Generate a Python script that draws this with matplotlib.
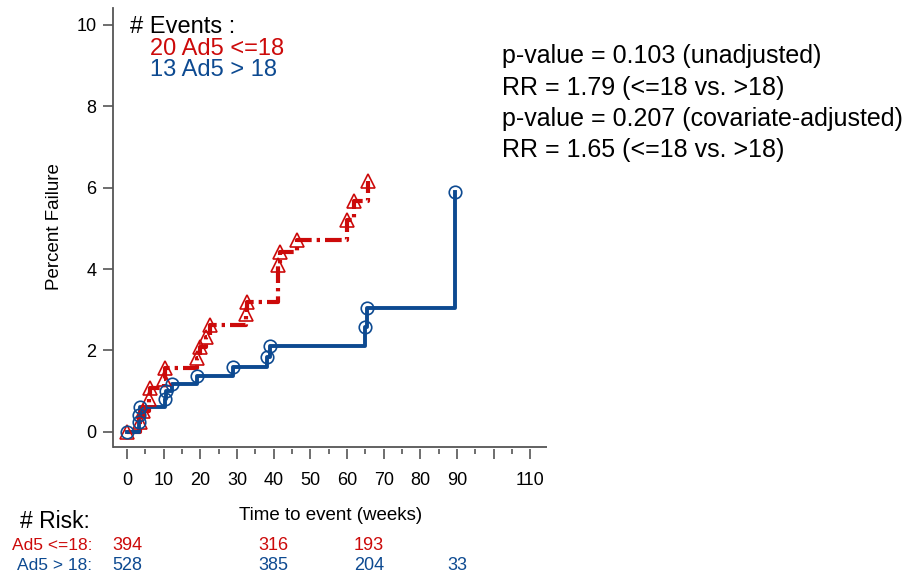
import matplotlib
matplotlib.use("Agg")
import matplotlib.pyplot as plt
from matplotlib.transforms import blended_transform_factory

plt.rcParams['font.family'] = ['Liberation Sans', 'DejaVu Sans']

# ---- data ----
red_t = [0, 3.5, 4.3, 6.0, 6.4, 10.2, 10.5, 19.1, 20.0, 21.6, 22.7, 32.5, 32.6,
         41.3, 41.6, 46.3, 60.1, 62.0, 65.6]
red_y = [0, 0.25, 0.52, 0.81, 1.07, 1.31, 1.58, 1.82, 2.08, 2.32, 2.62, 2.90, 3.20,
         4.10, 4.41, 4.72, 5.20, 5.68, 6.17]
blue_t = [0, 3.3, 3.4, 3.6, 10.3, 10.6, 12.3, 19.0, 29.0, 38.3, 38.9, 64.8, 65.3, 89.5]
blue_y = [0, 0.24, 0.42, 0.60, 0.81, 1.00, 1.18, 1.38, 1.59, 1.83, 2.10, 2.57, 3.04, 5.90]

x_ticks = [0, 10, 20, 30, 40, 50, 60, 70, 80, 90, 100, 110]
x_ticklabels = ['0', '10', '20', '30', '40', '50', '60', '70', '80', '90', '', '110']
y_ticks = [0, 2, 4, 6, 8, 10]

risk_times_red = [0, 40, 66]
risk_red = [394, 316, 193]
risk_times_blue = [0, 40, 66, 90]
risk_blue = [528, 385, 204, 33]

group_red = 'Ad5 <=18'
group_blue = 'Ad5 > 18'
events_red = 20
events_blue = 13

stats_lines = ['p-value = 0.103 (unadjusted)',
               'RR = 1.79 (<=18 vs. >18)',
               'p-value = 0.207 (covariate-adjusted)',
               'RR = 1.65 (<=18 vs. >18)']

RED = '#CC0A0A'
BLUE = '#0D4A91'
AXC = '#555555'

W, H = 913, 579
fig = plt.figure(figsize=(W / 100, H / 100), dpi=100)
ax = fig.add_axes([113 / W, 1 - 447.3 / H, 434 / W, 439 / H])

ax.set_xlim(-3.8, 114.5)
ax.set_ylim(-0.38, 10.41)

# red: dash-dot step
ax.plot(red_t, red_y, drawstyle='steps-post', color=RED, lw=3.0,
        dashes=(4.0, 1.2, 0.8, 1.2), dash_capstyle='butt', zorder=3)
ax.plot(red_t, red_y, linestyle='none', marker='^', markersize=10,
        markerfacecolor='none', markeredgecolor=RED, markeredgewidth=1.2, zorder=4)

# blue: solid step
ax.plot(blue_t, blue_y, drawstyle='steps-post', color=BLUE, lw=2.8, zorder=3)
ax.plot(blue_t, blue_y, linestyle='none', marker='o', markersize=9,
        markerfacecolor='none', markeredgecolor=BLUE, markeredgewidth=1.2, zorder=4)

# axes styling
for s in ['top', 'right']:
    ax.spines[s].set_visible(False)
ax.spines['left'].set_color(AXC)
ax.spines['left'].set_linewidth(1.3)
ax.spines['bottom'].set_position(('outward', 1.5))
ax.spines['bottom'].set_visible(False)
ax.plot([0, 1], [0, 0], transform=ax.transAxes, color=AXC, lw=1.3, clip_on=False,
        solid_capstyle='butt')

ax.set_xticks(x_ticks)
ax.set_xticklabels(x_ticklabels)
ax.set_xticks([5 + 10 * i for i in range(11)], minor=True)
ax.set_yticks(y_ticks)
ax.tick_params(axis='x', which='major', length=7.5, width=1.2, color=AXC,
               labelsize=13, pad=9)
ax.tick_params(axis='x', which='minor', length=3.5, width=1.2, color=AXC)
ax.tick_params(axis='y', which='major', length=7, width=1.2, color=AXC,
               labelsize=13, pad=5)

fig.text(54.5 / W, 1 - 227 / H, 'Percent Failure', rotation=90, ha='center',
         va='center', fontsize=13.5)
fig.text(331 / W, 1 - 516 / H, 'Time to event (weeks)', ha='center', va='center',
         fontsize=13.5)

# events legend
fig.text(130 / W, 1 - 27 / H, '# Events :', ha='left', va='center', fontsize=17)
fig.text(150 / W, 1 - 49 / H, f'{events_red} {group_red}', ha='left', va='center',
         fontsize=17, color=RED)
fig.text(150 / W, 1 - 70 / H, f'{events_blue} {group_blue}', ha='left', va='center',
         fontsize=17, color=BLUE)

# stats text
for i, line in enumerate(stats_lines):
    fig.text(502 / W, 1 - (56 + 31.5 * i) / H, line, ha='left', va='center',
             fontsize=18)

# risk table
fig.text(20 / W, 1 - 522 / H, '# Risk:', ha='left', va='center', fontsize=16.5)
fig.text(92 / W, 1 - 546 / H, group_red + ':', ha='right', va='center',
         fontsize=12.5, color=RED)
fig.text(92 / W, 1 - 565 / H, group_blue + ':', ha='right', va='center',
         fontsize=12.5, color=BLUE)
tr = blended_transform_factory(ax.transData, fig.transFigure)
for t, n in zip(risk_times_red, risk_red):
    ax.text(t, 1 - 546 / H, str(n), transform=tr, ha='center', va='center',
            fontsize=13, color=RED, clip_on=False)
for t, n in zip(risk_times_blue, risk_blue):
    ax.text(t, 1 - 565 / H, str(n), transform=tr, ha='center', va='center',
            fontsize=13, color=BLUE, clip_on=False)

fig.savefig('out.png', dpi=100)
